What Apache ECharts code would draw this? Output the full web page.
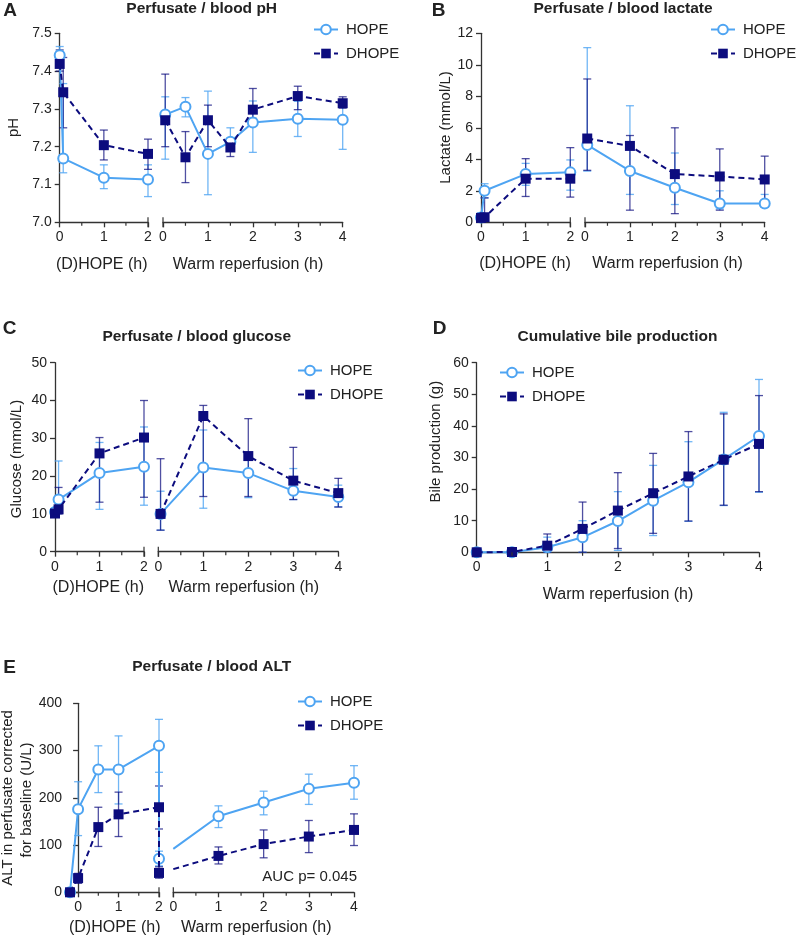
<!DOCTYPE html>
<html>
<head>
<meta charset="utf-8">
<script src="https://cdn.jsdelivr.net/npm/echarts@6/dist/echarts.min.js"></script>
<style>html,body{margin:0;padding:0;background:#fff}#c{width:800px;height:938px}</style>
</head>
<body>
<div id="c"></div>
<script>
// ---------------- DATA (value entries are [mean, lower, upper]) ----------------
// Panel A: pH
const tA_L = [0, 0.08, 1, 2];
const phHope_L  = [[7.442, 7.42, 7.465], [7.169, 7.131, 7.367], [7.118, 7.089, 7.152], [7.113, 7.068, 7.152]];
const phDhope_L = [[7.419, 7.40, 7.456], [7.344, 7.25, 7.436], [7.204, 7.165, 7.244], [7.181, 7.14, 7.22]];
const tA_R = [0.05, 0.5, 1, 1.5, 2, 3, 4];
const phHope_R  = [[7.285, 7.167, 7.332], [7.306, 7.279, 7.33], [7.181, 7.073, 7.347], [7.213, 7.19, 7.25], [7.264, 7.185, 7.321], [7.274, 7.227, 7.32], [7.271, 7.193, 7.31]];
const phDhope_R = [[7.27, 7.2, 7.392], [7.172, 7.105, 7.24], [7.27, 7.2, 7.31], [7.198, 7.174, 7.215], [7.298, 7.275, 7.354], [7.334, 7.298, 7.36], [7.315, 7.302, 7.332]];

// Panel B: lactate
const tB_L = [0, 0.08, 1, 2];
const lacHope_L  = [[0.3, 0.1, 0.6], [2.0, 1.55, 2.45], [3.06, 2.35, 3.74], [3.17, 2.04, 3.96]];
const lacDhope_L = [[0.28, 0.1, 0.5], [0.32, 0.1, 1.55], [2.77, 1.64, 4.04], [2.77, 1.6, 4.74]];
const tB_R = [0.05, 1, 2, 3, 4];
const lacHope_R  = [[4.91, 3.25, 11.09], [3.26, 1.77, 7.4], [2.19, 1.13, 4.4], [1.19, 0.85, 2.0], [1.19, 1.0, 1.77]];
const lacDhope_R = [[5.32, 3.3, 9.1], [4.85, 0.77, 5.51], [3.06, 0.55, 6.0], [2.91, 0.77, 4.66], [2.72, 0.98, 4.2]];

// Panel C: glucose
const tC_L = [0, 0.08, 1, 2];
const gluHope_L  = [[10.5, 9.5, 11.5], [13.8, 10.5, 24.0], [20.8, 11.2, 28.9], [22.5, 12.3, 33.0]];
const gluDhope_L = [[10.1, 9.5, 11.0], [11.2, 10.0, 17.0], [26.0, 13.1, 30.2], [30.2, 14.4, 40.0]];
const tC_R = [0.05, 1, 2, 3, 4];
const gluHope_R  = [[10.0, 5.7, 16.0], [22.3, 11.5, 32.2], [20.8, 14.3, 26.0], [16.1, 13.8, 22.0], [14.5, 11.9, 17.6]];
const gluDhope_R = [[10.0, 5.7, 24.6], [35.9, 14.6, 38.7], [25.3, 14.6, 35.2], [18.8, 13.8, 27.6], [15.5, 11.8, 19.4]];

// Panel D: cumulative bile production
const tD = [0, 0.5, 1, 1.5, 2, 2.5, 3, 3.5, 4];
const bileHope  = [[0, 0, 0], [0, 0, 0], [1.6, 0, 4.8], [4.75, 0, 10.0], [9.9, 0.6, 19.2], [16.35, 5.3, 27.5], [22.2, 9.8, 35.0], [29.4, 14.8, 44.3], [36.8, 19.0, 54.7]];
const bileDhope = [[0, 0, 0], [0.1, 0, 0.2], [2.1, 0, 5.8], [7.4, 0, 15.9], [13.2, 1.2, 25.2], [18.7, 6.0, 31.3], [24.0, 9.9, 38.2], [29.3, 14.9, 43.8], [34.3, 19.2, 49.6]];

// Panel E: ALT
const tE_L = [-0.2, 0, 0.5, 1, 2, 2];
const altHope_L  = [[0, 0, 0], [176, 120, 234], [260, 211, 310], [260, 187, 331], [310, 254, 366], [71, 56, 87]];
const altDhope_L = [[0, 0, 0], [30, 19, 40], [138, 97, 180], [165, 118, 212], [180, 134, 225], [41, 30, 54]];
const tE_R = [0, 1, 2, 3, 4];
const altHope_R  = [[92, null, null], [161, 137, 183], [190, 164, 214], [219, 186, 250], [232, 197, 268]];
const altDhope_R = [[49, null, null], [77, 60, 96], [102, 73, 132], [118, 84, 152], [132, 99, 166]];

// Tick labels
const ticksL = [0, 1, 2];
const ticksR = [0, 1, 2, 3, 4];
const ticksE_L = [0, 1, 2];
const minorL = [0.5, 1.5];
const minorR = [0.5, 1.5, 2.5, 3.5];

// ---------------- STYLE ----------------
const FONT = '"Liberation Sans", Arial, Helvetica, sans-serif';
const TXT = '#222';
const AX = '#333';
const C_HOPE = '#4ea4f2';
const C_DHOPE = '#0c0c7e';
const C_HOPE_ERR = 'rgba(78,164,242,0.8)';
const C_DHOPE_ERR = 'rgba(12,12,126,0.72)';

const option = {
  animation: false,
  backgroundColor: '#fff',
  grid: [], xAxis: [], yAxis: [], series: [], legend: [],
  graphic: { elements: [] }
};

function addGrid(box, xr, yr, showY) {
  const gi = option.grid.length;
  option.grid.push({ left: box.left, top: box.top, width: box.width, height: box.height });
  const xi = option.xAxis.length;
  option.xAxis.push({
    type: 'value', gridIndex: gi, min: xr.min, max: xr.max, position: 'bottom',
    axisLine: { show: true, onZero: false, lineStyle: { color: AX, width: 1.3 } },
    axisTick: { show: true, customValues: xr.major, length: 5, lineStyle: { color: AX, width: 1.3 } },
    axisLabel: { show: true, customValues: xr.major, margin: 8, color: TXT, fontSize: 14, fontFamily: FONT },
    splitLine: { show: false }
  });
  const yi = option.yAxis.length;
  option.yAxis.push({
    type: 'value', gridIndex: gi, min: yr.min, max: yr.max, interval: yr.interval, show: showY,
    axisLine: { show: true, lineStyle: { color: AX, width: 1.3 } },
    axisTick: { show: true, length: 5, lineStyle: { color: AX, width: 1.3 } },
    axisLabel: { color: TXT, fontSize: 14, fontFamily: FONT, margin: 8, formatter: yr.fmt || (v => String(v)) },
    splitLine: { show: false }
  });
  const g = { xi, yi, xr, yr };
  if (xr.minor) addTicks(g, xr.minor, 0, 3.5);
  if (xr.cap != null) addTicks(g, [xr.cap], 5, 5);
  return g;
}

// extra axis ticks (minor ticks, break caps) placed on the x-axis line through the axis scale
function addTicks(g, values, up, down) {
  option.series.push({
    type: 'custom', name: 'tick', xAxisIndex: g.xi, yAxisIndex: g.yi, silent: true, clip: false, z: 5,
    data: values.map(v => [v, g.yr.min]),
    renderItem: (params, api) => {
      const p = api.coord([api.value(0), api.value(1)]);
      return { type: 'line', shape: { x1: p[0], y1: p[1] - up, x2: p[0], y2: p[1] + down }, style: { stroke: AX, lineWidth: 1.2 } };
    }
  });
}

function errSeries(g, times, vals, color, z) {
  const data = [];
  times.forEach((t, i) => {
    const v = vals[i];
    if (v[1] != null && v[2] != null && v[2] - v[1] > 1e-9) data.push([t, v[1], v[2]]);
  });
  option.series.push({
    type: 'custom', name: 'err', xAxisIndex: g.xi, yAxisIndex: g.yi, silent: true, clip: false, z: z,
    data: data, encode: { x: 0, y: [1, 2] },
    renderItem: (params, api) => {
      const x = api.value(0);
      const pLo = api.coord([x, api.value(1)]);
      const pHi = api.coord([x, api.value(2)]);
      const w = 4;
      const st = { stroke: color, lineWidth: 1.3 };
      return {
        type: 'group', children: [
          { type: 'line', shape: { x1: pLo[0], y1: pLo[1], x2: pHi[0], y2: pHi[1] }, style: st },
          { type: 'line', shape: { x1: pHi[0] - w, y1: pHi[1], x2: pHi[0] + w, y2: pHi[1] }, style: st },
          { type: 'line', shape: { x1: pLo[0] - w, y1: pLo[1], x2: pLo[0] + w, y2: pLo[1] }, style: st }
        ]
      };
    }
  });
}

function lineSeries(g, name, times, vals) {
  const hope = name === 'HOPE';
  const data = times.map((t, i) => {
    const v = vals[i];
    if (v[1] == null) return { value: [t, v[0]], symbol: 'none' };
    return [t, v[0]];
  });
  option.series.push({
    type: 'line', name: name, xAxisIndex: g.xi, yAxisIndex: g.yi, data: data,
    symbol: hope ? 'emptyCircle' : 'rect', symbolSize: 10, showSymbol: true,
    clip: false, z: hope ? 3 : 4,
    lineStyle: { color: hope ? C_HOPE : C_DHOPE, width: 2, type: hope ? 'solid' : [6, 4] },
    itemStyle: { color: hope ? C_HOPE : C_DHOPE, borderColor: hope ? C_HOPE : C_DHOPE, borderWidth: hope ? 1.5 : 0 }
  });
}

function panelPair(g, times, hopeV, dhopeV) {
  errSeries(g, times, hopeV, C_HOPE_ERR, 1);
  errSeries(g, times, dhopeV, C_DHOPE_ERR, 2);
  lineSeries(g, 'HOPE', times, hopeV);
  lineSeries(g, 'DHOPE', times, dhopeV);
}

function addLegend(left, top) {
  option.legend.push({
    data: ['HOPE', 'DHOPE'], orient: 'vertical', left: left, top: top, padding: 0,
    itemWidth: 24, itemHeight: 12, itemGap: 9, selectedMode: false,
    textStyle: { color: TXT, fontSize: 15, fontFamily: FONT, padding: [0, 0, 0, 3] }
  });
}

function text(str, x, y, opts) {
  opts = opts || {};
  option.graphic.elements.push({
    type: 'text', x: x, y: y, rotation: opts.rot || 0, silent: true,
    style: {
      text: str, fill: TXT, fontSize: opts.size || 16, fontWeight: opts.bold ? 'bold' : 'normal',
      fontFamily: FONT, textAlign: opts.align || 'center', textVerticalAlign: 'middle'
    }
  });
}

const fmt1 = v => v.toFixed(1);

// ---------- Panel A ----------
{
  const yr = { min: 7.0, max: 7.5, interval: 0.1, fmt: fmt1 };
  const gL = addGrid({ left: 59.7, top: 33.3, width: 88.3, height: 189 }, { min: 0, max: 2, major: ticksL, minor: minorL, cap: 2 }, yr, true);
  const gR = addGrid({ left: 163, top: 33.3, width: 179.7, height: 189 }, { min: 0, max: 4, major: ticksR, minor: minorR, cap: 0 }, yr, false);
  panelPair(gL, tA_L, phHope_L, phDhope_L);
  panelPair(gR, tA_R, phHope_R, phDhope_R);
  addLegend(313, 22);
  text('A', 10, 11, { size: 19, bold: true });
  text('Perfusate / blood pH', 201.7, 8.5, { size: 15.5, bold: true });
  text('pH', 14, 127.5, { rot: Math.PI / 2, size: 15 });
  text('(D)HOPE (h)', 101.7, 265);
  text('Warm reperfusion (h)', 248, 265);
}
// ---------- Panel B ----------
{
  const yr = { min: 0, max: 12, interval: 2 };
  const gL = addGrid({ left: 481, top: 33.3, width: 89.3, height: 189 }, { min: 0, max: 2, major: ticksL, minor: minorL, cap: 2 }, yr, true);
  const gR = addGrid({ left: 585, top: 33.3, width: 179.7, height: 189 }, { min: 0, max: 4, major: ticksR, minor: minorR, cap: 0 }, yr, false);
  panelPair(gL, tB_L, lacHope_L, lacDhope_L);
  panelPair(gR, tB_R, lacHope_R, lacDhope_R);
  addLegend(710, 22);
  text('B', 438.5, 11, { size: 19, bold: true });
  text('Perfusate / blood lactate', 623, 8.5, { size: 15.5, bold: true });
  text('Lactate (mmol/L)', 446, 127.5, { rot: Math.PI / 2, size: 15 });
  text('(D)HOPE (h)', 525, 263.5);
  text('Warm reperfusion (h)', 667.5, 263.5);
}
// ---------- Panel C ----------
{
  const yr = { min: 0, max: 50, interval: 10 };
  const gL = addGrid({ left: 55, top: 362.7, width: 89, height: 189 }, { min: 0, max: 2, major: ticksL, minor: minorL, cap: 2 }, yr, true);
  const gR = addGrid({ left: 158.3, top: 362.7, width: 180, height: 189 }, { min: 0, max: 4, major: ticksR, minor: minorR, cap: 0 }, yr, false);
  panelPair(gL, tC_L, gluHope_L, gluDhope_L);
  panelPair(gR, tC_R, gluHope_R, gluDhope_R);
  addLegend(297, 363);
  text('C', 9.5, 329, { size: 19, bold: true });
  text('Perfusate / blood glucose', 196.7, 337, { size: 15.5, bold: true });
  text('Glucose (mmol/L)', 17, 459, { rot: Math.PI / 2, size: 15 });
  text('(D)HOPE (h)', 98.3, 587.5);
  text('Warm reperfusion (h)', 243.8, 587.5);
}
// ---------- Panel D ----------
{
  const yr = { min: 0, max: 60, interval: 10 };
  const g = addGrid({ left: 476.7, top: 362.7, width: 282.3, height: 189.6 }, { min: 0, max: 4, major: ticksR, minor: minorR }, yr, true);
  panelPair(g, tD, bileHope, bileDhope);
  addLegend(499, 365);
  text('D', 439.5, 329, { size: 19, bold: true });
  text('Cumulative bile production', 617.5, 337, { size: 15.5, bold: true });
  text('Bile production (g)', 436, 441.7, { rot: Math.PI / 2, size: 15 });
  text('Warm reperfusion (h)', 618, 594.3);
}
// ---------- Panel E ----------
{
  const yr = { min: 0, max: 400, interval: 100 };
  const gL = addGrid({ left: 70, top: 703.3, width: 89, height: 189 }, { min: -0.2, max: 2, major: ticksE_L, minor: minorL, cap: 2 }, yr, true);
  const gR = addGrid({ left: 173.3, top: 703.3, width: 180.7, height: 189 }, { min: 0, max: 4, major: ticksR, minor: minorR, cap: 0 }, yr, false);
  panelPair(gL, tE_L, altHope_L, altDhope_L);
  panelPair(gR, tE_R, altHope_R, altDhope_R);
  addLegend(297, 694);
  text('E', 9.5, 667.5, { size: 19, bold: true });
  text('Perfusate / blood ALT', 211.7, 667, { size: 15.5, bold: true });
  text('ALT in perfusate corrected', 8, 798, { rot: Math.PI / 2, size: 15 });
  text('for baseline (U/L)', 27, 800, { rot: Math.PI / 2, size: 15 });
  text('AUC p= 0.045', 357, 876.7, { align: 'right', size: 15 });
  text('(D)HOPE (h)', 114.7, 928);
  text('Warm reperfusion (h)', 256.3, 928);
}

const chart = echarts.init(document.getElementById('c'), null, { renderer: 'canvas' });
chart.setOption(option);
</script>
</body>
</html>
